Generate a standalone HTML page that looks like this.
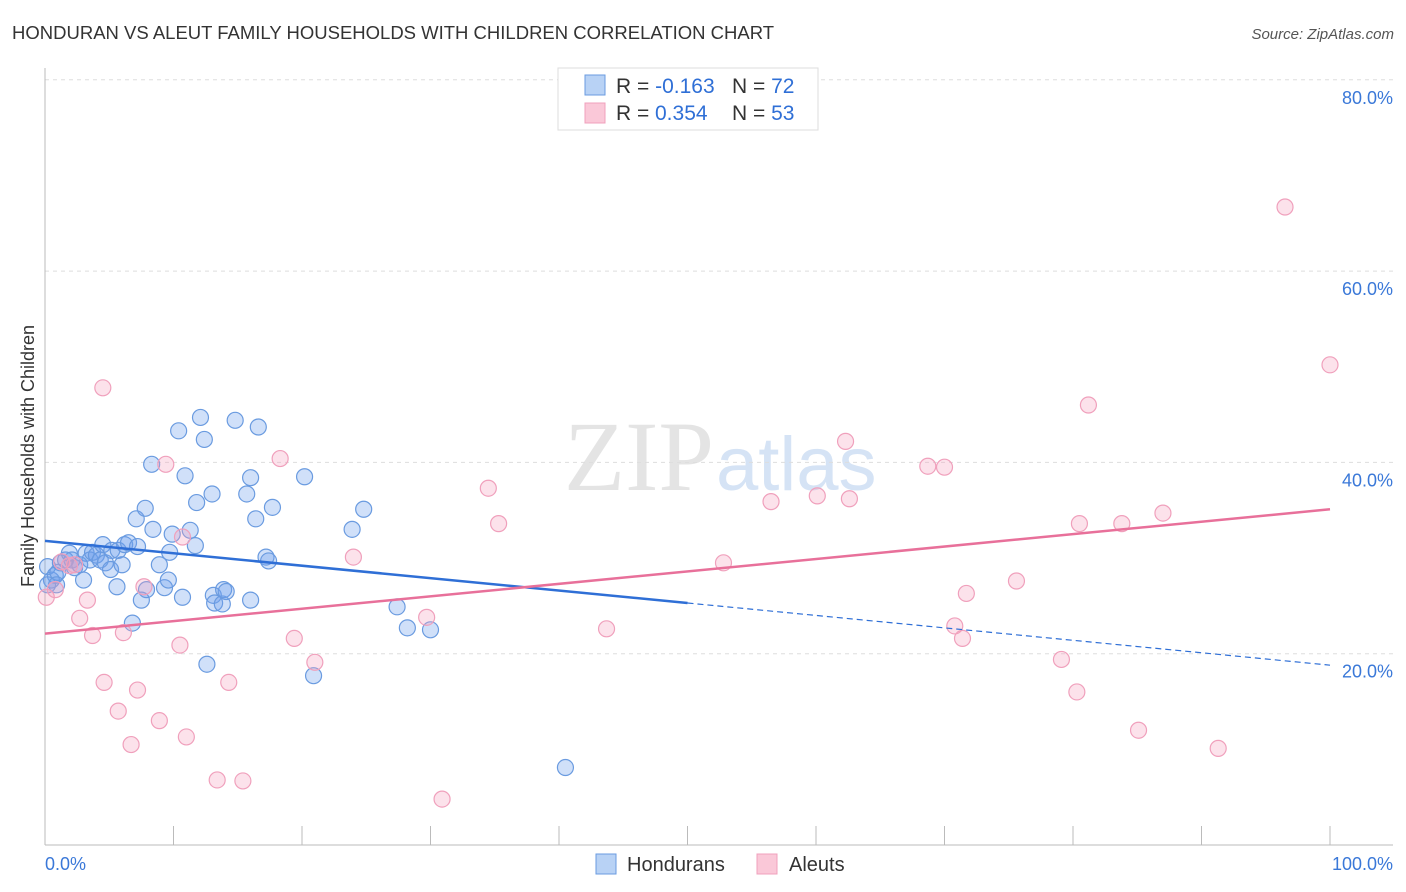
<!DOCTYPE html>
<html><head><meta charset="utf-8"><style>
body{margin:0;background:#fff;font-family:"Liberation Sans",sans-serif;}
svg{display:block}
</style></head><body>
<svg id="chart" width="1406" height="892">
<text x="12" y="39" font-size="18.5" fill="#333">HONDURAN VS ALEUT FAMILY HOUSEHOLDS WITH CHILDREN CORRELATION CHART</text>
<text x="1394" y="39" font-size="15" fill="#555" font-style="italic" text-anchor="end">Source: ZipAtlas.com</text>
<text x="714" y="490" font-size="100" fill="#e4e4e4" text-anchor="end" font-family="Liberation Serif">ZIP</text>
<text x="716" y="490" font-size="76" fill="#d5e3f5">atlas</text>
<g id="grid"></g><g id="axes"></g><g id="marks"></g><g id="trend"></g>
<text transform="translate(34,456) rotate(-90)" font-size="18" fill="#333" text-anchor="middle">Family Households with Children</text>
<g>
<rect x="558" y="68" width="260" height="62" fill="#fff" stroke="#ddd"/>
<rect x="585" y="75" width="20" height="20" fill="#b8d2f5" stroke="#6a9be0"/>
<rect x="585" y="103" width="20" height="20" fill="#fac8d8" stroke="#f0a0bc"/>
<text x="616" y="93" font-size="21" fill="#333">R = <tspan fill="#2f6fd6">-0.163</tspan><tspan x="732">N = </tspan><tspan fill="#2f6fd6">72</tspan></text>
<text x="616" y="120" font-size="21" fill="#333">R = <tspan fill="#2f6fd6" x="655">0.354</tspan><tspan x="732">N = </tspan><tspan fill="#2f6fd6">53</tspan></text>
</g>
<g>
<rect x="596" y="854" width="20" height="20" fill="#b8d2f5" stroke="#6a9be0"/>
<text x="627" y="871" font-size="20" fill="#333">Hondurans</text>
<rect x="757" y="854" width="20" height="20" fill="#fac8d8" stroke="#f0a0bc"/>
<text x="789" y="871" font-size="20" fill="#333">Aleuts</text>
</g>
</svg>
<script>
const yTicks=[20,40,60,80];
const yTickLabels=["20.0%","40.0%","60.0%","80.0%"];
const xTicks=[0,10,20,30,40,50,60,70,80,90,100];
const hondX=[0.2,0.5,0.8,1.0,1.2,1.6,1.9,2.1,2.3,2.7,3.0,3.2,3.5,3.7,4.0,4.3,4.5,4.7,5.1,5.2,5.6,5.7,6.0,6.2,6.5,6.8,7.1,7.2,7.5,7.8,7.9,8.3,8.4,8.9,9.3,9.6,9.7,9.9,10.4,10.7,10.9,11.3,11.7,11.8,12.1,12.4,12.6,13.0,13.1,13.2,13.8,13.9,14.1,14.8,15.7,16.0,16.0,16.4,16.6,17.2,17.4,17.7,20.2,20.9,23.9,24.8,27.4,28.2,30.0,40.5,0.2,0.9];
const hondY=[29.1,27.7,28.2,28.5,29.5,29.8,30.5,29.8,29.0,29.3,27.7,30.5,29.8,30.6,30.3,29.8,31.4,29.5,28.8,30.8,27.0,30.8,29.3,31.4,31.6,23.2,34.1,31.2,25.6,35.2,26.7,39.8,33.0,29.3,26.9,27.7,30.6,32.5,43.3,25.9,38.6,32.9,31.3,35.8,44.7,42.4,18.9,36.7,26.1,25.3,25.2,26.7,26.5,44.4,36.7,25.6,38.4,34.1,43.7,30.1,29.7,35.3,38.5,17.7,33.0,35.1,24.9,22.7,22.5,8.1,27.2,27.2];
const aleutX=[0.1,0.8,1.3,1.9,2.3,2.7,3.3,3.7,4.5,4.6,5.7,6.1,6.7,7.2,7.7,8.9,9.4,10.5,10.7,11.0,13.4,14.3,15.4,18.3,19.4,21.0,24.0,29.7,30.9,34.5,35.3,43.7,52.8,56.5,60.1,62.3,62.6,68.7,70.0,70.8,71.4,71.7,75.6,79.1,80.3,80.5,81.2,83.8,85.1,87.0,91.3,96.5,100];
const aleutY=[25.9,26.7,29.6,29.2,29.3,23.7,25.6,21.9,47.8,17.0,14.0,22.2,10.5,16.2,27.0,13.0,39.8,20.9,32.2,11.3,6.8,17.0,6.7,40.4,21.6,19.1,30.1,23.8,4.8,37.3,33.6,22.6,29.5,35.9,36.5,42.2,36.2,39.6,39.5,22.9,21.6,26.3,27.6,19.4,16.0,33.6,46.0,33.6,12.0,34.7,10.1,66.7,50.2];
const hondTrend=[31.8,18.8];
const hondSolidEnd=50;
const aleutTrend=[22.1,35.1];
const NS="http://www.w3.org/2000/svg";
const X=v=>45+v*12.85, Y=v=>845-v*9.565;
function mk(t,a,p){const e=document.createElementNS(NS,t);for(const k in a)e.setAttribute(k,a[k]);p.appendChild(e);return e;}
const grid=document.getElementById('grid'),axes=document.getElementById('axes'),marks=document.getElementById('marks'),trend=document.getElementById('trend');
yTicks.forEach((t,i)=>{
 const l=mk('line',{x1:45,x2:1393,y1:Y(t),y2:Y(t),stroke:'#ddd','stroke-dasharray':'4,4'},grid);
 
 
 const tx=mk('text',{x:1393,y:Y(t)+24,'font-size':18,fill:'#3a78d8','text-anchor':'end'},axes);
 tx.textContent=yTickLabels[i];
 
 
});
mk('line',{x1:45,x2:45,y1:68,y2:845,stroke:'#bbb'},axes);
mk('line',{x1:45,x2:1393,y1:845,y2:845,stroke:'#bbb'},axes);
xTicks.forEach(t=>{
 const l=mk('line',{x1:X(t),x2:X(t),y1:826,y2:845,stroke:'#bbb'},axes);
 
 
});
const x0=mk('text',{x:45,y:870,'font-size':18,fill:'#3a78d8'},axes);x0.textContent='0.0%';


const x1=mk('text',{x:1393,y:870,'font-size':18,fill:'#3a78d8','text-anchor':'end'},axes);x1.textContent='100.0%';


hondX.forEach((v,i)=>{
 const c=mk('circle',{cx:X(v),cy:Y(hondY[i]),r:8,fill:'rgba(110,160,235,0.32)',stroke:'#6a9be0','stroke-width':1.2},marks);
 
 
});
aleutX.forEach((v,i)=>{
 const c=mk('circle',{cx:X(v),cy:Y(aleutY[i]),r:8,fill:'rgba(245,160,190,0.3)',stroke:'#f0a0bc','stroke-width':1.2},marks);
 
 
});
const hm=hondTrend[0]+(hondTrend[1]-hondTrend[0])*hondSolidEnd/100;
const t1=mk('line',{x1:X(0),y1:Y(hondTrend[0]),x2:X(hondSolidEnd),y2:Y(hm),stroke:'#2f6fd6','stroke-width':2.5},trend);


const t2=mk('line',{x1:X(hondSolidEnd),y1:Y(hm),x2:X(100),y2:Y(hondTrend[1]),stroke:'#2f6fd6','stroke-width':1.2,'stroke-dasharray':'6,4'},trend);


const t3=mk('line',{x1:X(0),y1:Y(aleutTrend[0]),x2:X(100),y2:Y(aleutTrend[1]),stroke:'#e8709a','stroke-width':2.5},trend);


</script>
</body></html>
